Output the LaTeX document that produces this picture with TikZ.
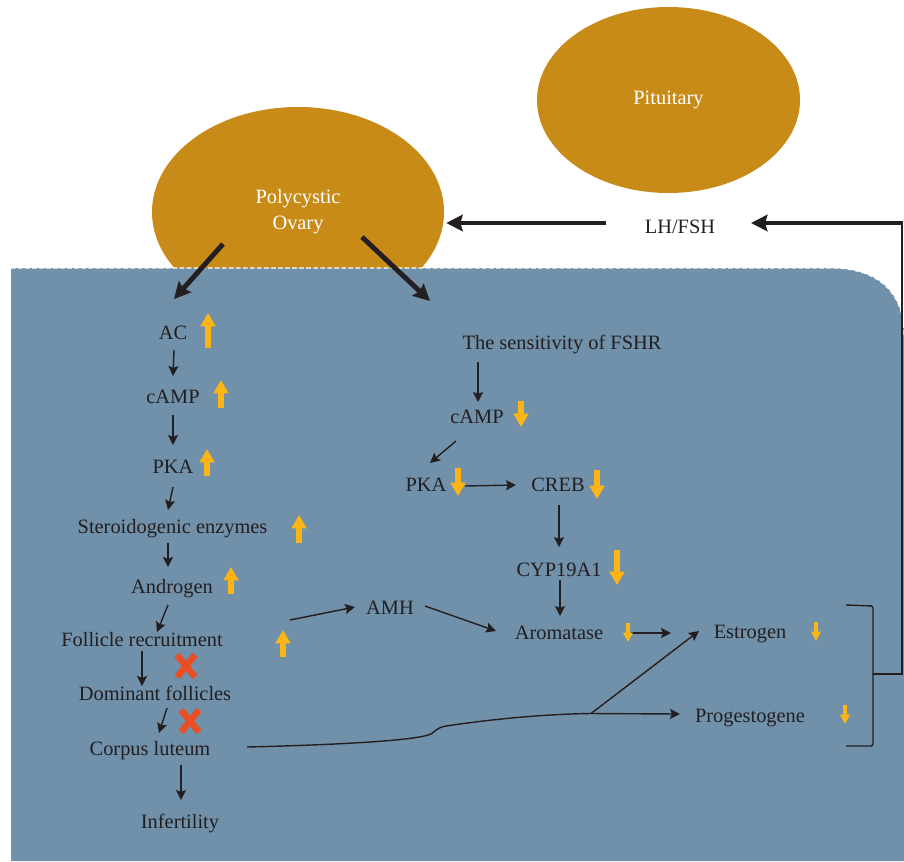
\documentclass[tikz,border=0pt]{standalone}
\usepackage{fontspec}
\setmainfont{Liberation Serif}
\usetikzlibrary{arrows.meta,calc,shapes.geometric}
\definecolor{panel}{RGB}{113,144,169}
\definecolor{gold}{RGB}{201,139,23}
\definecolor{yel}{RGB}{253,181,21}
\definecolor{xred}{RGB}{233,78,36}
\definecolor{ink}{RGB}{35,31,32}
\begin{document}
\begin{tikzpicture}[x=0.03cm,y=-0.03cm,
  txt/.style={font=\fontsize{17.4}{21}\selectfont, text=ink, anchor=base, inner sep=0pt},
  conn/.style={draw=ink, line width=1.2pt, -{Stealth[length=8.5pt,width=8.5pt,inset=1.5pt]}},
  thinline/.style={draw=ink, line width=1.2pt},
  bigconn/.style={draw=ink, line width=4.2pt, -{Stealth[length=14pt,width=14pt,inset=2pt]}},
  upmark/.style={draw=yel, line width=5pt, -{Triangle[length=11.5pt,width=12.5pt]}},
  smallmark/.style={draw=yel, line width=2.6pt, -{Triangle[length=8pt,width=8pt]}},
  xmark/.style={draw=xred, line width=5.5pt},
  blob/.style={ellipse, fill=gold, inner sep=0pt, text=white, align=center,
    font=\fontsize{17.4}{22}\selectfont}]
\useasboundingbox (0,0) rectangle (904,861);
\fill[white] (0,0) rectangle (904,861);

% organs
\node[blob, minimum width=8.76cm, minimum height=6.3cm] (ovary) at (298,212) {Polycystic\\Ovary};
\node[blob, minimum width=7.89cm, minimum height=5.58cm] (pit) at (668.5,100) {Pituitary};

% panel
\fill[panel] (11,268) -- (830,268) .. controls (878,268) and (904,292) .. (904,335) -- (904,861) -- (11,861) -- cycle;
\draw[white, line width=0.9pt, dash pattern=on 4pt off 2pt] (11,268) -- (830,268) .. controls (878,268) and (904,292) .. (904,335);

% text nodes
\node[txt] (lhfsh) at (680,233) {LH/FSH};
\node[txt] (ac) at (173,339) {AC};
\node[txt] (camp1) at (173,403) {cAMP};
\node[txt] (pka1) at (173,473) {PKA};
\node[txt] (ster) at (172.5,533) {Steroidogenic enzymes};
\node[txt] (andr) at (172,593) {Androgen};
\node[txt] (fr) at (142,646) {Follicle recruitment};
\node[txt] (df) at (155,700) {Dominant follicles};
\node[txt] (cl) at (150,755) {Corpus luteum};
\node[txt] (inf) at (180,828) {Infertility};
\node[txt] (amh) at (390,614) {AMH};
\node[txt] (fshr) at (562,349) {The sensitivity of FSHR};
\node[txt] (camp2) at (477,423) {cAMP};
\node[txt] (pka2) at (426,491) {PKA};
\node[txt] (creb) at (558,491) {CREB};
\node[txt] (cyp) at (559,576) {CYP19A1};
\node[txt] (arom) at (559,639) {Aromatase};
\node[txt] (estr) at (750,638) {Estrogen};
\node[txt] (prog) at (750,722) {Progestogene};

% thick connectors
\draw[bigconn] ($(ovary.center)+(-75,32)$) -- ($(ac.base)+(1,-40)$);
\draw[bigconn] ($(ovary.center)+(64,25)$) -- ($(fshr.base)+(-132,-48)$);
\draw[bigconn] ($(lhfsh.base)+(-74,-10)$) -- ($(ovary.east)+(2,11)$);

% bracket and feedback
\coordinate (brk) at (873,674);
\coordinate (corner) at (902,223);
\draw[thinline, rounded corners=1.5pt] ($(estr.base)+(96,-33)$) -- (873,606) -- (873,746) -- ($(prog.base)+(96,24)$);
\draw[thinline, line width=1pt] (brk) -- (902,674) -- (corner);
\draw[bigconn] ([xshift=0.5pt]corner) -- ($(lhfsh.base)+(71,-10)$);

% left column
\draw[conn] ($(ac.base)+(1,11)$) -- ($(camp1.base)+(0,-27)$);
\draw[conn] ($(camp1.base)+(0,12)$) -- ($(pka1.base)+(0,-28)$);
\draw[conn] ($(pka1.base)+(0,14)$) -- ($(ster.base)+(-4.5,-23)$);
\draw[conn] ($(ster.base)+(-4.5,10)$) -- ($(andr.base)+(-4,-26)$);
\draw[conn] ($(andr.base)+(-4,12)$) -- ($(fr.base)+(15,-14)$);
\draw[conn] ($(fr.base)+(0,5)$) -- ($(df.base)+(-13,-14)$);
\draw[conn] ($(df.base)+(12,8)$) -- ($(cl.base)+(9,-22)$);
\draw[conn] ($(cl.base)+(31,10)$) -- ($(inf.base)+(1,-28)$);
\draw[conn] ($(fr.base)+(148,-26)$) -- ($(amh.base)+(-35,-7)$);
\draw[conn] ($(amh.base)+(35,-8)$) -- ($(arom.base)+(-63,-8)$);

% right column
\draw[conn] ($(fshr.base)+(-84,13)$) -- ($(camp2.base)+(1,-21)$);
\draw[conn] ($(camp2.base)+(-21,18)$) -- ($(pka2.base)+(4,-28)$);
\draw[conn] ($(pka2.base)+(39,-5)$) -- ($(creb.base)+(-42,-6)$);
\draw[conn] ($(creb.base)+(1,14)$) -- ($(cyp.base)+(0,-29)$);
\draw[conn] ($(cyp.base)+(1,4)$) -- ($(arom.base)+(1,-23)$);
\draw[conn] ($(arom.base)+(72,-6)$) -- ($(estr.base)+(-79,-5)$);

% corpus luteum to progestogene / estrogen
\coordinate (split) at (591,713.5);
\draw[conn] ($(cl.base)+(97,-8)$) .. controls (330,745) and (415,741) .. (431,734)
  .. controls (436,731) and (436,728) .. (446,726)
  .. controls (500,718) and (550,714) .. (split) -- ($(prog.base)+(-70,-8)$);
\draw[conn] (split) -- ($(estr.base)+(-51,-7)$);

% level indicators
\draw[upmark] (208,348) -- (208,313);
\draw[upmark] (221,408) -- (221,380);
\draw[upmark] (207,476) -- (207,449);
\draw[upmark] (299,543) -- (299,515);
\draw[upmark] (231,594) -- (231,567);
\draw[upmark] (283,657) -- (283,630);
\draw[upmark] (521,401) -- (521,427);
\draw[upmark] (458,468) -- (458,496);
\draw[upmark] (597,470) -- (597,499);
\draw[upmark] (617,550) -- (617,585);
\draw[smallmark] (628,623) -- (628,642);
\draw[smallmark] (816,622) -- (816,641);
\draw[smallmark] (845,705) -- (845,724);

% blocks
\draw[xmark] (177,655) -- (195,677) (195,655) -- (177,677);
\draw[xmark] (181,710) -- (199,732) (199,710) -- (181,732);
\end{tikzpicture}
\end{document}
